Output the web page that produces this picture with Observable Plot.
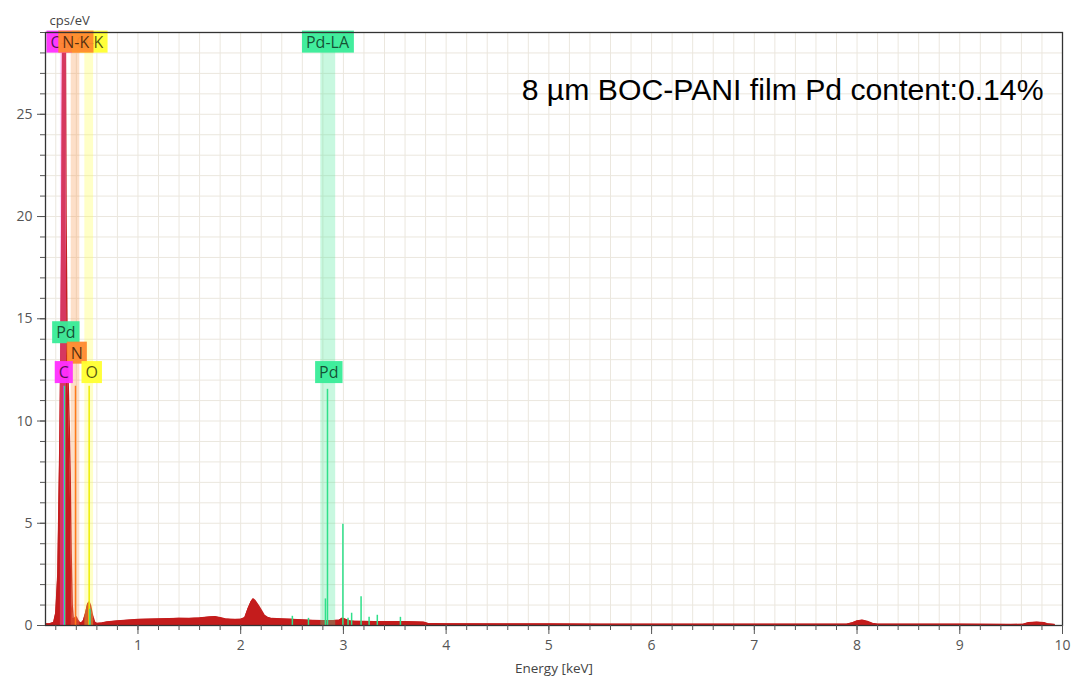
<!DOCTYPE html>
<html><head><meta charset="utf-8">
<script src="https://cdn.jsdelivr.net/npm/d3@7"></script>
<script src="https://cdn.jsdelivr.net/npm/@observablehq/plot@0.6"></script>
<style>
body{margin:0;background:#fff;}
#chart{width:1077px;height:678px;}
</style></head><body><div id="chart"></div>
<script>
// ---- data ----
const xMajor = [1, 2, 3, 4, 5, 6, 7, 8, 9, 10];
const yMajor = [0, 5, 10, 15, 20, 25];
const xDomain = [0.1, 10];
const yDomain = [0, 29];
const titleText = "8 µm BOC-PANI film Pd content:0.14%";
const xLabel = "Energy [keV]";
const yLabel = "cps/eV";

// EDS spectrum [energy keV, cps/eV]
const spectrum = [
  [0.10,0.08],[0.14,0.08],[0.18,0.15],[0.20,0.6],[0.22,2.5],[0.24,9],[0.25,14],[0.26,21],
  [0.27,34],[0.28,40],[0.29,34],[0.30,20],[0.31,14],[0.32,12],[0.33,10],[0.34,7.5],
  [0.35,3.5],[0.36,1.0],[0.37,0.35],[0.38,0.3],[0.39,0.4],[0.40,0.42],[0.41,0.3],[0.43,0.15],
  [0.45,0.12],[0.47,0.25],[0.49,0.6],[0.51,1.05],[0.525,1.15],[0.54,0.95],[0.56,0.45],[0.58,0.15],
  [0.60,0.1],[0.65,0.12],[0.70,0.17],[0.80,0.22],[0.90,0.26],[1.00,0.29],[1.10,0.31],[1.20,0.32],
  [1.30,0.33],[1.40,0.35],[1.50,0.34],[1.60,0.37],[1.70,0.42],[1.75,0.43],[1.80,0.38],[1.85,0.32],
  [1.90,0.3],[1.95,0.29],[2.00,0.3],[2.04,0.38],[2.07,0.8],[2.10,1.15],[2.12,1.3],[2.14,1.22],
  [2.17,1.0],[2.20,0.75],[2.23,0.5],[2.26,0.4],[2.30,0.34],[2.40,0.32],[2.50,0.3],[2.60,0.27],
  [2.70,0.25],[2.80,0.24],[2.90,0.24],[2.96,0.26],[2.99,0.36],[3.02,0.3],[3.06,0.22],[3.10,0.21],
  [3.20,0.2],[3.30,0.19],[3.40,0.19],[3.50,0.18],[3.60,0.18],[3.70,0.17],[3.78,0.16],[3.82,0.1],
  [3.90,0.09],[4.00,0.08],[4.50,0.07],[5.00,0.07],[5.50,0.06],[6.00,0.06],[6.50,0.06],[7.00,0.06],
  [7.50,0.06],[7.90,0.06],[7.95,0.12],[8.00,0.22],[8.05,0.26],[8.10,0.2],[8.15,0.1],[8.20,0.06],
  [8.60,0.06],[9.00,0.06],[9.50,0.05],[9.62,0.06],[9.67,0.14],[9.75,0.16],[9.82,0.14],[9.86,0.07],
  [9.92,0.05]
];

// element highlight bands [lo, hi] keV
const bands = [
  {el: "C", lo: 0.245, hi: 0.305},
  {el: "N", lo: 0.350, hi: 0.434},
  {el: "O", lo: 0.483, hi: 0.568},
  {el: "Pd", lo: 2.780, hi: 2.925}
];
// element marker lines
const elementLines = [
  {el: "C", e: 0.277, h: 11.7},
  {el: "N", e: 0.392, h: 11.7},
  {el: "O", e: 0.525, h: 11.7}
];
// Pd marker lines
const pdLines = [
  {e: 0.284, h: 11.7}, {e: 0.533, h: 0.8},
  {e: 2.503, h: 0.45}, {e: 2.660, h: 0.35}, {e: 2.825, h: 1.3}, {e: 2.845, h: 11.55},
  {e: 2.995, h: 4.95}, {e: 3.045, h: 0.35}, {e: 3.080, h: 0.6}, {e: 3.172, h: 1.4},
  {e: 3.250, h: 0.4}, {e: 3.330, h: 0.5}, {e: 3.555, h: 0.4}
];
const topLabels = [
  {text: "C-K", e: 0.270, el: "C"},
  {text: "O-K", e: 0.530, el: "O"},
  {text: "N-K", e: 0.395, el: "N"},
  {text: "Pd-LA", e: 2.845, el: "Pd"}
];
const lowerLabels = [
  {text: "Pd", e: 0.298, y: 14.3, el: "Pd"},
  {text: "N", e: 0.405, y: 13.3, el: "N"},
  {text: "C", e: 0.278, y: 12.35, el: "C"},
  {text: "O", e: 0.550, y: 12.35, el: "O"},
  {text: "Pd", e: 2.858, y: 12.35, el: "Pd"}
];

// ---- styles ----
const boxColors = {C: "#ff2eff", N: "#ff8a2e", O: "#ffff30", Pd: "#38ec98"};
const bandColors = {C: "#ff7aff", N: "#f8964a", O: "#ffff46", Pd: "#48e898"};
const lineColors = {C: "#ff00ff", N: "#ff7a1a", O: "#eeee00", Pd: "#2fe08a"};
const red = "#c41c1c";

const minorX = d3.range(0.2, 10.001, 0.2).map(v => +v.toFixed(1));
const minorY = d3.range(1, 29.001, 1);
const data = spectrum.map(([e, c]) => ({e, c}));

const chart = Plot.plot({
  width: 1077, height: 678,
  marginLeft: 45, marginRight: 15, marginTop: 32, marginBottom: 53,
  x: {domain: xDomain, label: null},
  y: {domain: yDomain, label: null},
  style: {fontFamily: "'Open Sans', sans-serif", background: "#fff", overflow: "visible"},
  marks: [
    Plot.gridX(minorX, {stroke: "#ebe7de", strokeOpacity: 1}),
    Plot.gridY(minorY, {stroke: "#ebe7de", strokeOpacity: 1}),
    Plot.areaY(data, {x: "e", y: "c", fill: red, clip: true}),
    Plot.lineY(data, {x: "e", y: "c", stroke: red, strokeWidth: 1.4, clip: true}),
    Plot.rect(bands, {x1: "lo", x2: "hi", fill: d => bandColors[d.el], fillOpacity: 0.3}),
    Plot.ruleX(elementLines, {x: "e", y1: 0, y2: "h", stroke: d => lineColors[d.el], strokeWidth: 1.5}),
    Plot.ruleX(pdLines, {x: "e", y1: 0, y2: "h", stroke: lineColors.Pd, strokeWidth: 1.5}),
    Plot.text(topLabels, {x: "e", frameAnchor: "top", lineAnchor: "middle", dy: 10, text: "text", fontSize: 16,
      fill: "#000", fillOpacity: 0.68, ariaDescription: "boxlabels-top"}),
    Plot.text(lowerLabels, {x: "e", y: "y", lineAnchor: "middle", text: "text", fontSize: 16,
      fill: "#000", fillOpacity: 0.68, ariaDescription: "boxlabels-low"}),
    Plot.text([titleText], {frameAnchor: "top-right", lineAnchor: "middle", dx: -19, dy: 58, text: d => d, fontSize: 30.2,
      fontFamily: "'Liberation Sans', Arial, sans-serif", fill: "#000", textAnchor: "end"}),
    Plot.text([yLabel], {frameAnchor: "top-left", lineAnchor: "middle", dx: 4, dy: -12, text: d => d, fontSize: 13,
      fill: "#444", textAnchor: "start"}),
    Plot.text([xLabel], {frameAnchor: "bottom", lineAnchor: "middle", dy: 43, text: d => d, fontSize: 13.5, fill: "#444"}),
    Plot.frame({stroke: "#333", strokeWidth: 1.3}),
    Plot.axisX({ticks: minorX, tickSize: 5, tickFormat: () => "", color: "#555", label: null}),
    Plot.axisX({ticks: xMajor, tickSize: 9, tickPadding: 6, fontSize: 14, color: "#555", label: null}),
    Plot.axisY({ticks: minorY, tickSize: 5, tickFormat: () => "", color: "#555", label: null}),
    Plot.axisY({ticks: yMajor, tickSize: 8, tickPadding: 5, fontSize: 14, color: "#555", label: null})
  ]
});
document.getElementById("chart").append(chart);

function findGroup(desc, labels) {
  let g = chart.querySelector(`g[aria-description="${desc}"]`);
  if (g) return g;
  const want = labels.map(d => d.text).join("|");
  for (const cand of chart.querySelectorAll("g")) {
    const ts = Array.from(cand.querySelectorAll(":scope > text"));
    if (ts.length === labels.length && ts.map(t => t.textContent).join("|") === want) return cand;
  }
  return null;
}
function boxify(desc, labels, padX, padY) {
  const g = findGroup(desc, labels);
  if (!g) return;
  const texts = Array.from(g.querySelectorAll("text"));
  texts.forEach((t, i) => {
    const b = t.getBBox();
    const r = document.createElementNS("http://www.w3.org/2000/svg", "rect");
    r.setAttribute("x", b.x - padX);
    r.setAttribute("y", b.y - padY);
    r.setAttribute("width", b.width + 2 * padX);
    r.setAttribute("height", b.height + 2 * padY);
    const tr = t.getAttribute("transform");
    if (tr) r.setAttribute("transform", tr);
    r.setAttribute("fill", boxColors[labels[i].el]);
    r.setAttribute("fill-opacity", 0.95);
    g.insertBefore(r, t);
  });
}
boxify("boxlabels-top", topLabels, 4, 0);
boxify("boxlabels-low", lowerLabels, 4, 0);
</script>
</body></html>
